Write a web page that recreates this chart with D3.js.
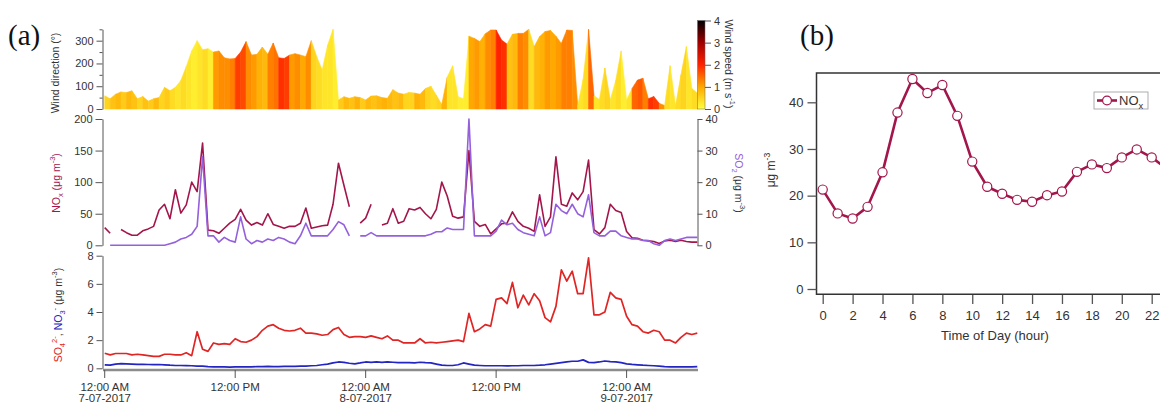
<!DOCTYPE html>
<html>
<head>
<meta charset="utf-8">
<script src="https://cdn.jsdelivr.net/npm/d3@7"></script>
<style>
  body { margin: 0; background: #fff; }
  svg { display: block; font-family: "Liberation Sans", Arial, sans-serif; }
  .axis path, .axis line { stroke: #555; }
  .axis text { fill: #333; font-size: 11px; font-family: "Liberation Sans", Arial, sans-serif; }
  .axisb text { font-size: 13px; }
</style>
</head>
<body>
<svg id="chart" width="1160" height="405"></svg>
<script>
// half-hourly samples, starting 7-07-2017 00:00
const startTime = new Date(2017, 6, 7, 0, 0);
const stepMinutes = 30;

const windDir = [
  58, 45, 65, 75, 72, 80, 45, 55, 35, 45,
  50, 95, 80, 95, 125, 186, 255, 300, 260, 265,
  250, 255, 225, 220, 222, 250, 296, 237, 240, 272,
  240, 290, 225, 222, 237, 243, 237, 230, 300, 230,
  171, 280, 350, 40, 54, 47, 54, 50, 40, 57,
  58, 50, 47, 85, 70, 65, 73, 70, 65, 90,
  100, 60, 20, 140, 190, 54, 45, 320, 310, 296,
  330, 347, 347, 303, 285, 328, 332, 332, 350, 274,
  318, 340, 345, 320, 288, 347, 345, 15, 130, 354,
  58, 42, 180, 40, 125, 255, 40, 90, 127, 135,
  45, 55, 25, 15, 190, 15, 150, 274, 90, 70
];
const windSpeed = [
  0.5, 0.7, 0.8, 0.6, 0.8, 0.7, 0.5, 0.7, 0.6, 0.8,
  0.5, 0.6, 0.4, 0.3, 0.4, 0.3, 0.2, 0.3, 0.4, 0.2,
  1.1, 1.2, 1.2, 1.3, 1.8, 1.7, 1.2, 1.1, 0.9, 0.8,
  1.3, 1.4, 1.9, 1.8, 1.1, 1.2, 1.0, 1.2, 0.5, 0.4,
  0.3, 0.3, 0.2, 0.6, 0.8, 0.7, 0.9, 0.6, 0.8, 0.7,
  0.8, 0.9, 0.8, 0.7, 0.8, 0.5, 0.5, 0.9, 0.8, 0.5,
  0.4, 0.5, 0.9, 0.3, 0.3, 0.2, 0.2, 1.0, 1.1, 0.9,
  1.2, 1.3, 2.0, 1.9, 0.7, 0.8, 1.3, 1.2, 0.4, 0.8,
  0.9, 1.1, 1.0, 1.1, 1.3, 1.3, 1.2, 0.3, 0.4, 1.5,
  0.3, 0.4, 0.5, 0.3, 0.4, 0.2, 0.3, 1.5, 1.6, 1.3,
  1.9, 1.8, 1.2, 0.4, 0.3, 0.4, 0.5, 0.3, 0.4, 0.3
];
const nox = [
  28, 19, null, 25, 20, 16, 16, 23, 26, 30,
  56, 65, 42, 88, 51, 64, 100, 85, 162, 24,
  23, 19, 27, 35, 41, 57, 40, 32, 36, 32,
  50, 33, 30, 27, 30, 30, 35, 59, 27, 29,
  31, 32, 65, 130, 95, 61, null, 35, 43, 65,
  null, 32, 35, 58, 35, 38, 58, 56, 60, 50,
  42, 57, 100, 78, 46, 43, 45, 150, 38, 30,
  33, 18, 26, 34, 35, 53, 38, 30, 27, 22,
  80, 30, 45, 140, 65, 62, 83, 72, 85, 135,
  25, 18, 28, 65, 55, 52, 22, 12, 11, 8,
  7, 6, 3, 7, 8, 6, 8, 6, 5, 5
];
const so2 = [
  null, 0, 0, 0, 0, 0, 0, 0, 0, 0,
  0, 0, 0.5, 1, 2, 2.5, 3.5, 6, 28, 3,
  3, 1, 2.5, 1.5, 1, 9, 2, 0.5, 1.5, 1,
  2, 1.5, 2.5, 2, 1, 0.5, 3, 7, 3, 3,
  3, 3, 5, 7.5, 6.5, 3, null, 3, 3, 4,
  3, 3, 3, 3, 3, 3, 3, 3, 3, 3,
  3.5, 4.3, 4.3, 5.5, 5, 5, 5, 40, 3, 3,
  3, 3, 4.5, 8, 6.5, 7, 5, 4, 3.5, 3,
  9, 3, 4, 13, 11, 10, 13, 10, 9, 16,
  4, 3, 3, 4.5, 4.5, 3, 2.5, 2, 2, 1.5,
  1.5, 0.5, 0, 1.5, 2, 1.5, 2, 2.5, 2.5, 2.5
];
const so4 = [
  1.07, 0.95, 1.05, 1.05, 1.05, 0.95, 1.0, 0.95, 0.9, 0.85,
  0.85, 1.0, 1.0, 0.95, 0.95, 1.1, 0.9, 2.6, 1.35, 1.2,
  1.8, 1.7, 1.75, 1.7, 2.1, 1.9, 1.85, 2.0, 2.25, 2.7,
  3.0, 3.1, 2.85, 2.7, 2.65, 2.7, 2.85, 2.5, 2.5, 2.45,
  2.35, 2.4, 2.75, 2.9, 2.4, 2.2, 2.25, 2.25, 2.2, 2.3,
  2.2, 2.1, 2.3, 2.0, 2.0, 1.8, 1.8, 1.8, 2.1, 1.8,
  1.85, 1.8, 1.85, 1.9, 1.95, 2.0, 1.9, 3.9, 2.6, 2.8,
  3.1, 3.0, 4.9, 5.0, 4.6, 6.1, 4.3, 5.2, 4.5, 5.3,
  4.8, 3.6, 3.3, 4.4, 7.0, 6.2, 6.9, 5.3, 5.3, 7.85,
  3.8, 3.8, 4.0, 5.4, 5.0, 4.9, 3.7, 3.1, 3.0, 2.6,
  2.5, 2.7, 2.6, 2.0, 2.0, 1.8, 2.2, 2.5, 2.4, 2.5
];
const no3 = [
  0.25, 0.22, 0.3, 0.33, 0.32, 0.3, 0.28, 0.28, 0.27, 0.26,
  0.27, 0.25, 0.22, 0.2, 0.2, 0.19, 0.18, 0.16, 0.15, 0.12,
  0.1, 0.1, 0.1, 0.09, 0.1, 0.1, 0.11, 0.1, 0.12, 0.12,
  0.13, 0.12, 0.12, 0.14, 0.13, 0.13, 0.15, 0.15, 0.18, 0.2,
  0.25, 0.3, 0.38, 0.45, 0.42, 0.36, 0.32, 0.38, 0.45, 0.42,
  0.45, 0.42, 0.45, 0.43, 0.4, 0.4, 0.4, 0.38, 0.43, 0.4,
  0.38, 0.3, 0.22, 0.2, 0.2, 0.25, 0.38, 0.3, 0.22, 0.2,
  0.18, 0.18, 0.18, 0.18, 0.17, 0.18, 0.18, 0.2, 0.2, 0.2,
  0.22, 0.25, 0.3, 0.35, 0.4, 0.45, 0.5, 0.5, 0.6, 0.42,
  0.4, 0.45, 0.52, 0.48, 0.45, 0.4, 0.32, 0.28, 0.25, 0.22,
  0.2, 0.18, 0.15, 0.12, 0.1, 0.1, 0.1, 0.1, 0.1, 0.12
];

// panel (b): diurnal NOx
const hourOfDay = [0, 1, 2, 3, 4, 5, 6, 7, 8, 9, 10, 11, 12, 13, 14, 15, 16, 17, 18, 19, 20, 21, 22, 23];
const noxDiurnal = [21.3, 16.2, 15.1, 17.6, 25.0, 37.8, 45.0, 42.0, 43.7, 37.1, 27.3, 21.9,
                    20.4, 19.1, 18.7, 20.1, 20.9, 25.1, 26.7, 25.9, 28.2, 29.9, 28.2, 25.8];
const hourTicks = [0, 2, 4, 6, 8, 10, 12, 14, 16, 18, 20, 22];

const noxColor = '#a3164c';
const so2Color = '#9460dc';
const so4Color = '#e02525';
const no3Color = '#2424c0';
const textColor = '#333';

const svg = d3.select('#chart');

function timeAt(i) {
    return new Date(startTime.getTime() + i * stepMinutes * 60000);
}

function richText(sel, parts, size) {
    var shift = 0;
    parts.forEach(function(p) {
        var target = p.s === 'sub' ? size * 0.3 : (p.s === 'sup' ? -size * 0.45 : 0);
        sel.append('tspan')
            .attr('dy', target - shift)
            .attr('font-size', p.s ? size * 0.72 : size)
            .attr('fill', p.c || textColor)
            .text(p.t);
        shift = target;
    });
}

var x = d3.scaleTime()
    .domain([new Date(startTime.getTime() - 15 * 60000), new Date(startTime.getTime() + 3274 * 60000)])
    .range([102, 698]);

// ---------- wind panel ----------
var yDir = d3.scaleLinear().domain([0, 350]).range([109, 29.3]);
var wsColor = d3.scaleLinear()
    .domain([0, 1, 2, 3, 4])
    .range(['#ffff3c', '#ffa800', '#ff2200', '#a00000', '#000000'])
    .clamp(true);

var windPts = windDir.map(function(d, i) {
    return { t: timeAt(i), dir: Math.min(d, 350), ws: windSpeed[i] };
});

var bandArea = d3.area()
    .x(function(d) { return x(d.t); })
    .y0(yDir(0))
    .y1(function(d) { return yDir(d.dir); });

svg.append('g')
    .selectAll('path')
    .data(d3.pairs(windPts))
    .join('path')
    .attr('d', function(p) { return bandArea(p); })
    .attr('fill', function(p) { return wsColor(p[0].ws); })
    .attr('stroke', function(p) { return wsColor(p[0].ws); })
    .attr('stroke-width', 0.6);

svg.append('g')
    .attr('class', 'axis')
    .attr('transform', 'translate(102.5,0)')
    .call(d3.axisLeft(yDir).tickValues([0, 100, 200, 300]).tickSize(6).tickSizeOuter(0).tickPadding(3));

svg.append('g')
    .attr('class', 'axis')
    .attr('transform', 'translate(102.5,0)')
    .call(d3.axisLeft(yDir).tickValues([50, 150, 250, 350]).tickSize(3).tickFormat(''))
    .select('.domain').remove();

// colour bar
var defs = svg.append('defs');
var grad = defs.append('linearGradient')
    .attr('id', 'wsGrad')
    .attr('x1', 0).attr('y1', 1).attr('x2', 0).attr('y2', 0);
d3.range(0, 4.01, 0.25).forEach(function(v) {
    grad.append('stop').attr('offset', v / 4).attr('stop-color', wsColor(v));
});

var yWs = d3.scaleLinear().domain([0, 4]).range([109, 20.5]);
svg.append('rect')
    .attr('x', 697.5).attr('y', yWs(4))
    .attr('width', 7.5).attr('height', yWs(0) - yWs(4))
    .attr('fill', 'url(#wsGrad)')
    .attr('stroke', '#666').attr('stroke-width', 0.5);

svg.append('g')
    .attr('class', 'axis')
    .attr('transform', 'translate(705,0)')
    .call(d3.axisRight(yWs).ticks(4).tickSize(6).tickSizeOuter(0).tickPadding(3))
    .select('.domain').remove();

var wsLabel = svg.append('text')
    .attr('transform', 'translate(725,64) rotate(90)')
    .attr('text-anchor', 'middle')
    .attr('font-size', 10.5);
richText(wsLabel, [{ t: 'Wind speed (m s' }, { t: '-1', s: 'sup' }, { t: ')' }], 10.5);

svg.append('text')
    .attr('transform', 'translate(59,73) rotate(-90)')
    .attr('text-anchor', 'middle')
    .attr('font-size', 10.5)
    .attr('fill', textColor)
    .text('Wind direction (°)');

// ---------- NOx / SO2 panel ----------
var yNox = d3.scaleLinear().domain([0, 200]).range([245.3, 119]);
var ySo2 = d3.scaleLinear().domain([0, 40]).range([245.3, 119]);

var noxLine = d3.line()
    .defined(function(d) { return d != null; })
    .x(function(d, i) { return x(timeAt(i)); })
    .y(function(d) { return yNox(d); });

var so2Line = d3.line()
    .defined(function(d) { return d != null; })
    .x(function(d, i) { return x(timeAt(i)); })
    .y(function(d) { return ySo2(d); });

svg.append('path')
    .datum(nox)
    .attr('d', noxLine)
    .attr('fill', 'none')
    .attr('stroke', noxColor)
    .attr('stroke-width', 1.6)
    .attr('stroke-linejoin', 'round');

svg.append('path')
    .datum(so2)
    .attr('d', so2Line)
    .attr('fill', 'none')
    .attr('stroke', so2Color)
    .attr('stroke-width', 1.6)
    .attr('stroke-linejoin', 'round');

svg.append('g')
    .attr('class', 'axis')
    .attr('transform', 'translate(102.5,0)')
    .call(d3.axisLeft(yNox).ticks(4).tickSize(7).tickSizeOuter(0).tickPadding(3));

svg.append('g')
    .attr('class', 'axis')
    .attr('transform', 'translate(697.5,0)')
    .call(d3.axisRight(ySo2).ticks(4).tickSize(5).tickSizeOuter(0).tickPadding(3));

var noxLabel = svg.append('text')
    .attr('transform', 'translate(60,183) rotate(-90)')
    .attr('text-anchor', 'middle')
    .attr('font-size', 10.5);
richText(noxLabel, [
    { t: 'NO', c: noxColor }, { t: 'x', s: 'sub', c: noxColor },
    { t: ' (μg m', c: noxColor }, { t: '-3', s: 'sup', c: noxColor }, { t: ')', c: noxColor }
], 10.5);

var so2Label = svg.append('text')
    .attr('transform', 'translate(735,183) rotate(90)')
    .attr('text-anchor', 'middle')
    .attr('font-size', 10.5);
richText(so2Label, [
    { t: 'SO', c: so2Color }, { t: '2', s: 'sub', c: so2Color },
    { t: ' (μg m' }, { t: '-3', s: 'sup' }, { t: ')' }
], 10.5);

// ---------- SO4 / NO3 panel ----------
var yIon = d3.scaleLinear().domain([0, 8]).range([368.3, 255.7]);

var ionLine = d3.line()
    .x(function(d, i) { return x(timeAt(i)); })
    .y(function(d) { return yIon(d); });

svg.append('path')
    .datum(no3)
    .attr('d', ionLine)
    .attr('fill', 'none')
    .attr('stroke', no3Color)
    .attr('stroke-width', 1.7)
    .attr('stroke-linejoin', 'round');

svg.append('path')
    .datum(so4)
    .attr('d', ionLine)
    .attr('fill', 'none')
    .attr('stroke', so4Color)
    .attr('stroke-width', 1.7)
    .attr('stroke-linejoin', 'round');

svg.append('g')
    .attr('class', 'axis')
    .attr('transform', 'translate(102.5,0)')
    .call(d3.axisLeft(yIon).ticks(4).tickSize(6).tickSizeOuter(0).tickPadding(3));

// time axis
svg.append('line')
    .attr('x1', x.range()[0] + 1).attr('x2', x.range()[1])
    .attr('y1', 370).attr('y2', 370)
    .attr('stroke', '#8c8c8c').attr('stroke-width', 2.5);

var timeTicks = d3.timeHour.every(12).range(startTime, x.domain()[1]);
var fmtTime = d3.timeFormat('%I:%M %p');
var fmtDate = d3.timeFormat('%-d-%m-%Y');

var tickG = svg.append('g')
    .selectAll('g')
    .data(timeTicks)
    .join('g')
    .attr('transform', function(d) { return 'translate(' + x(d) + ',0)'; });

tickG.append('line')
    .attr('y1', 370).attr('y2', 378)
    .attr('stroke', '#555');

tickG.append('text')
    .attr('y', 391)
    .attr('text-anchor', 'middle')
    .attr('font-size', 11.5)
    .attr('fill', textColor)
    .text(function(d) { return fmtTime(d); });

tickG.filter(function(d) { return d.getHours() === 0; })
    .append('text')
    .attr('y', 402)
    .attr('text-anchor', 'middle')
    .attr('font-size', 11.5)
    .attr('fill', textColor)
    .text(function(d) { return fmtDate(d); });

var ionLabel = svg.append('text')
    .attr('transform', 'translate(62,315) rotate(-90)')
    .attr('text-anchor', 'middle')
    .attr('font-size', 10.5);
richText(ionLabel, [
    { t: 'SO', c: so4Color }, { t: '4', s: 'sub', c: so4Color }, { t: '2-', s: 'sup', c: so4Color },
    { t: ', ' },
    { t: 'NO', c: no3Color }, { t: '3', s: 'sub', c: no3Color }, { t: '-', s: 'sup', c: no3Color },
    { t: ' (μg m' }, { t: '-3', s: 'sup' }, { t: ')' }
], 10.5);

svg.append('text')
    .attr('x', 8).attr('y', 45)
    .attr('font-family', '"Liberation Serif", "Times New Roman", serif')
    .attr('font-size', 29)
    .attr('fill', '#111')
    .text('(a)');

// ---------- panel (b) ----------
var xB = d3.scaleLinear().domain([0, 22]).range([822.7, 1151.7]);
var yB = d3.scaleLinear().domain([0, 40]).range([289, 102.3]);
var frameTop = 73, frameBottom = 294.3, frameLeft = 816.5;

svg.append('path')
    .attr('d', 'M1165,' + frameTop + 'H' + frameLeft + 'V' + frameBottom + 'H1165')
    .attr('fill', 'none')
    .attr('stroke', '#333')
    .attr('stroke-width', 1.5);

svg.append('g')
    .attr('class', 'axis axisb')
    .attr('transform', 'translate(' + frameLeft + ',0)')
    .call(d3.axisLeft(yB).ticks(4).tickSize(9).tickPadding(4))
    .select('.domain').remove();

svg.append('g')
    .attr('class', 'axis axisb')
    .attr('transform', 'translate(0,' + (frameBottom + 0.7) + ')')
    .call(d3.axisBottom(xB).tickValues(hourTicks).tickSize(9).tickPadding(7))
    .select('.domain').remove();

svg.selectAll('.axisb line').attr('stroke', '#333').attr('stroke-width', 1.3);

svg.append('text')
    .attr('x', 995).attr('y', 340)
    .attr('text-anchor', 'middle')
    .attr('font-size', 13)
    .attr('fill', textColor)
    .text('Time of Day (hour)');

var ugLabel = svg.append('text')
    .attr('transform', 'translate(775,170) rotate(-90)')
    .attr('text-anchor', 'middle')
    .attr('font-size', 12);
richText(ugLabel, [{ t: 'μg m' }, { t: '-3', s: 'sup' }], 12);

var diurnal = hourOfDay.map(function(h, i) { return { h: h, v: noxDiurnal[i] }; });

svg.append('path')
    .datum(diurnal)
    .attr('d', d3.line().x(function(d) { return xB(d.h); }).y(function(d) { return yB(d.v); }))
    .attr('fill', 'none')
    .attr('stroke', noxColor)
    .attr('stroke-width', 2.6)
    .attr('stroke-linejoin', 'round');

svg.append('g')
    .selectAll('circle')
    .data(diurnal)
    .join('circle')
    .attr('cx', function(d) { return xB(d.h); })
    .attr('cy', function(d) { return yB(d.v); })
    .attr('r', 4.6)
    .attr('fill', '#fff')
    .attr('stroke', noxColor)
    .attr('stroke-width', 1.2);

// legend
svg.append('rect')
    .attr('x', 1094).attr('y', 92)
    .attr('width', 54).attr('height', 17)
    .attr('fill', '#fff')
    .attr('stroke', '#999')
    .attr('stroke-width', 0.8);
svg.append('line')
    .attr('x1', 1097).attr('x2', 1117)
    .attr('y1', 100.5).attr('y2', 100.5)
    .attr('stroke', noxColor).attr('stroke-width', 2.6);
svg.append('circle')
    .attr('cx', 1107).attr('cy', 100.5).attr('r', 4.4)
    .attr('fill', '#fff').attr('stroke', noxColor).attr('stroke-width', 1.2);
var legText = svg.append('text')
    .attr('x', 1119).attr('y', 105)
    .attr('font-size', 13);
richText(legText, [{ t: 'NO' }, { t: 'x', s: 'sub' }], 13);

svg.append('text')
    .attr('x', 800).attr('y', 45)
    .attr('font-family', '"Liberation Serif", "Times New Roman", serif')
    .attr('font-size', 29)
    .attr('fill', '#111')
    .text('(b)');
</script>
</body>
</html>
